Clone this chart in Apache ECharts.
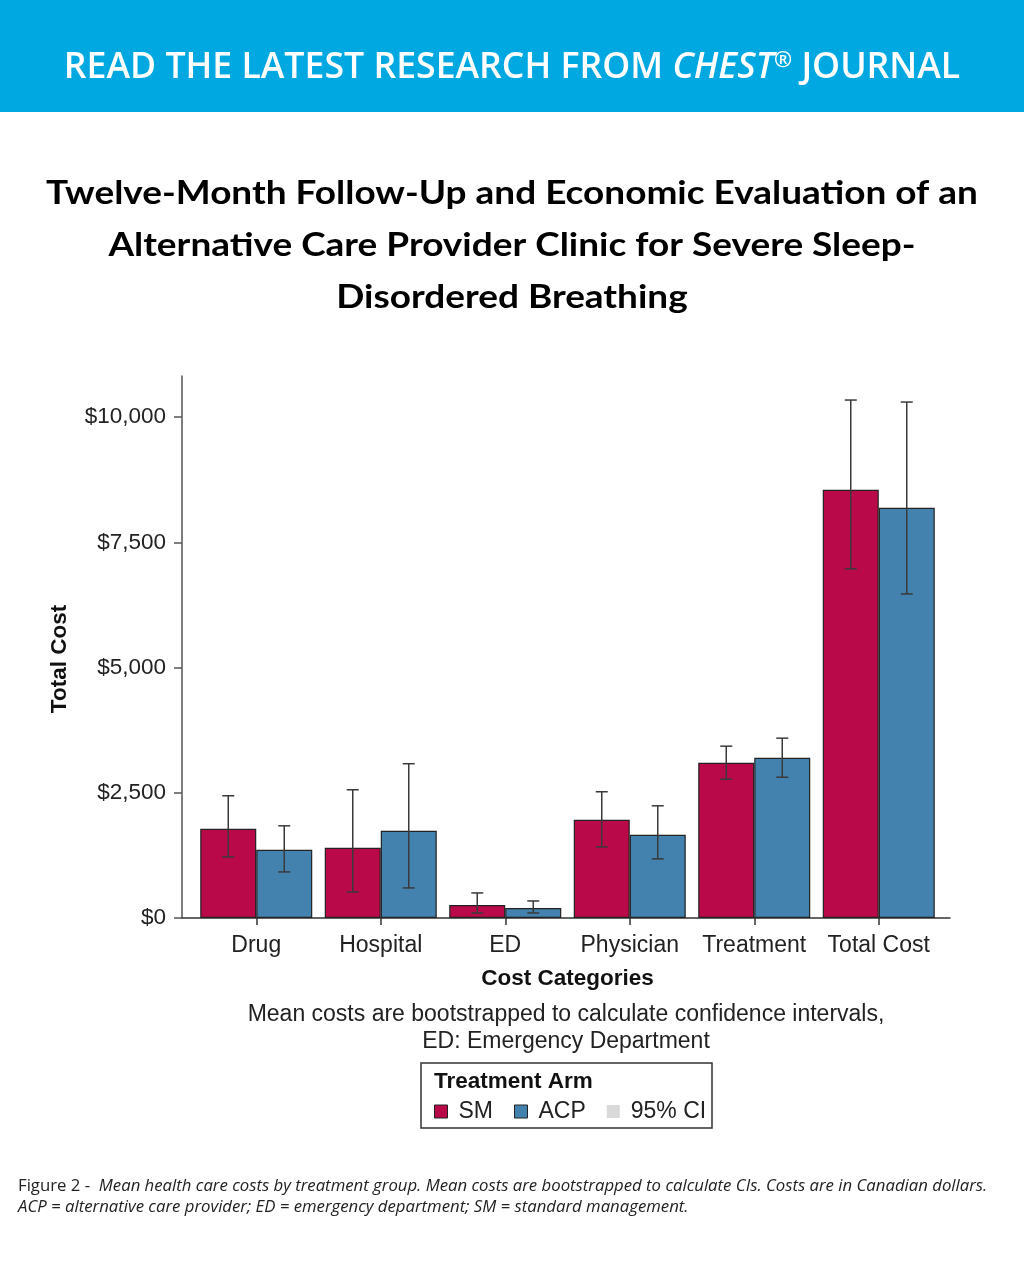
<!DOCTYPE html>
<html>
<head>
<meta charset="utf-8">
<script src="https://cdn.jsdelivr.net/npm/echarts@6/dist/echarts.min.js"></script>
<style>
  html, body { margin: 0; padding: 0; background: #fff; }
  #chart { width: 1024px; height: 1280px; }
</style>
</head>
<body>
<div id="chart"></div>
<script>
// cost categories on the x axis
const categories = ['Drug', 'Hospital', 'ED', 'Physician', 'Treatment', 'Total Cost']
// mean costs (CAD) per arm
const smMean = [1780, 1400, 260, 1960, 3100, 8550]
const acpMean = [1360, 1740, 200, 1660, 3200, 8190]
// 95% CI bounds
const smLow = [1220, 520, 100, 1420, 2770, 6970]
const smHigh = [2440, 2560, 500, 2520, 3430, 10340]
const acpLow = [920, 600, 100, 1180, 2810, 6470]
const acpHigh = [1840, 3080, 340, 2240, 3590, 10300]
// y axis ticks
const yTicks = [0, 2500, 5000, 7500, 10000]
const yMax = 10820

const SM_COLOR = '#BA0948'
const ACP_COLOR = '#4382AE'
const BAR_W = 56
const LABEL_FONT = 'Liberation Sans'

const chart = echarts.init(document.getElementById('chart'))

// error bar drawn at bar centre (offset = half bar width)
function errorBar(offset) {
    return function (params, api) {
        const lo = api.coord([api.value(0), api.value(1)])
        const hi = api.coord([api.value(0), api.value(2)])
        const x = lo[0] + offset
        const cap = 6
        const style = { stroke: '#3a3a3a', lineWidth: 1.5 }
        return {
            type: 'group',
            children: [
                { type: 'line', shape: { x1: x, y1: lo[1], x2: x, y2: hi[1] }, style },
                { type: 'line', shape: { x1: x - cap, y1: lo[1], x2: x + cap, y2: lo[1] }, style },
                { type: 'line', shape: { x1: x - cap, y1: hi[1], x2: x + cap, y2: hi[1] }, style },
            ],
        }
    }
}

const smCI = categories.map((c, i) => [i, smLow[i], smHigh[i]])
const acpCI = categories.map((c, i) => [i, acpLow[i], acpHigh[i]])

chart.setOption({
    animation: false,
    backgroundColor: '#fff',
    textStyle: { fontFamily: LABEL_FONT },
    grid: [
        // bars live here
        { left: 194, right: 83, top: 376, bottom: 362 },
        // axis lines span a bit wider
        { left: 182, right: 74, top: 376, bottom: 362 },
    ],
    xAxis: [
        {
            type: 'category',
            gridIndex: 0,
            data: categories,
            axisLine: { show: false },
            axisTick: { show: true, interval: 0, alignWithLabel: true, length: 7, lineStyle: { color: '#333', width: 1.5 } },
            axisLabel: { interval: 0, hideOverlap: false, color: '#222', fontSize: 23, margin: 16, fontFamily: LABEL_FONT },
            name: 'Cost Categories',
            nameLocation: 'middle',
            nameGap: 49,
            nameTextStyle: { color: '#111', fontSize: 22.5, fontWeight: 'bold', fontFamily: LABEL_FONT },
        },
        {
            type: 'value',
            gridIndex: 1,
            min: 0,
            max: 1,
            axisLine: { show: true, onZero: false, lineStyle: { color: '#333', width: 1.5 } },
            axisTick: { show: false },
            axisLabel: { show: false },
            splitLine: { show: false },
        },
    ],
    yAxis: [
        {
            type: 'value',
            gridIndex: 0,
            min: 0,
            max: yMax,
            show: false,
        },
        {
            type: 'value',
            gridIndex: 1,
            min: 0,
            max: yMax,
            axisLine: { show: true, lineStyle: { color: '#555', width: 1.5 } },
            axisTick: { show: true, customValues: yTicks, length: 8, lineStyle: { color: '#555', width: 1.5 } },
            axisLabel: {
                customValues: yTicks,
                color: '#222',
                fontSize: 22.5,
                margin: 16,
                fontFamily: LABEL_FONT,
                formatter: (v) => '$' + v.toLocaleString('en-US'),
            },
            splitLine: { show: false },
            name: 'Total Cost',
            nameLocation: 'middle',
            nameGap: 111,
            nameTextStyle: { color: '#111', fontSize: 22.5, fontWeight: 'bold', fontFamily: LABEL_FONT, padding: [0, 24, 0, 0] },
        },
    ],
    legend: {
        left: 429,
        top: 1095,
        itemWidth: 13,
        itemHeight: 13,
        itemGap: 21,
        textStyle: { color: '#222', fontSize: 23, fontFamily: LABEL_FONT, padding: [0, 0, 0, 6] },
        data: [
            { name: 'SM', icon: 'rect', itemStyle: { color: SM_COLOR, borderColor: '#222', borderWidth: 1 } },
            { name: 'ACP', icon: 'rect', itemStyle: { color: ACP_COLOR, borderColor: '#222', borderWidth: 1 } },
            { name: '95% CI', icon: 'rect', itemStyle: { color: '#d9d9d9', borderWidth: 0 } },
        ],
    },
    series: [
        {
            name: 'SM',
            type: 'bar',
            xAxisIndex: 0,
            yAxisIndex: 0,
            data: smMean,
            barWidth: BAR_W,
            barGap: '0%',
            itemStyle: { color: SM_COLOR, borderColor: '#222', borderWidth: 1.2 },
        },
        {
            name: 'ACP',
            type: 'bar',
            xAxisIndex: 0,
            yAxisIndex: 0,
            data: acpMean,
            barWidth: BAR_W,
            barGap: '0%',
            itemStyle: { color: ACP_COLOR, borderColor: '#222', borderWidth: 1.2 },
        },
        {
            name: '95% CI',
            type: 'custom',
            xAxisIndex: 0,
            yAxisIndex: 0,
            renderItem: errorBar(-BAR_W / 2),
            data: smCI,
            z: 5,
        },
        {
            name: '95% CI',
            type: 'custom',
            xAxisIndex: 0,
            yAxisIndex: 0,
            renderItem: errorBar(BAR_W / 2),
            data: acpCI,
            z: 5,
        },
    ],
    graphic: [
        // header band
        { type: 'rect', shape: { x: 0, y: 0, width: 1024, height: 112 }, style: { fill: '#00A8E1' }, silent: true },
        {
            type: 'text',
            x: 512,
            y: 68,
            scaleX: 0.99,
            style: {
                text: '{a|READ THE LATEST RESEARCH FROM }{b|CHEST}{c|®}{a| JOURNAL}',
                align: 'center',
                verticalAlign: 'middle',
                rich: {
                    a: { fill: '#fff', fontSize: 36, fontWeight: 600, fontFamily: 'Open Sans' },
                    b: { fill: '#fff', fontSize: 36, fontWeight: 600, fontStyle: 'italic', fontFamily: 'Open Sans' },
                    c: { fill: '#fff', fontSize: 22, fontWeight: 600, fontFamily: 'Open Sans', verticalAlign: 'top', padding: [0, 0, 12, 0] },
                },
            },
        },
        // title
        {
            type: 'text',
            x: 512,
            y: 245,
            scaleX: 1.12,
            style: {
                text: 'Twelve-Month Follow-Up and Economic Evaluation of an\nAlternative Care Provider Clinic for Severe Sleep-\nDisordered Breathing',
                align: 'center',
                verticalAlign: 'middle',
                fill: '#000',
                fontSize: 33,
                lineHeight: 52,
                fontWeight: 'bold',
                fontFamily: 'Lato',
            },
        },
        // note below axis
        {
            type: 'text',
            x: 566,
            y: 1028,
            style: {
                text: 'Mean costs are bootstrapped to calculate confidence intervals,\nED: Emergency Department',
                align: 'center',
                verticalAlign: 'middle',
                fill: '#222',
                fontSize: 23,
                lineHeight: 27,
                fontFamily: LABEL_FONT,
            },
        },
        // legend box and its title
        { type: 'rect', shape: { x: 421, y: 1063, width: 291, height: 65 }, style: { fill: 'none', stroke: '#333', lineWidth: 1.5 } },
        {
            type: 'text',
            x: 434,
            y: 1082,
            style: { text: 'Treatment Arm', verticalAlign: 'middle', fill: '#111', fontSize: 22.5, fontWeight: 'bold', fontFamily: LABEL_FONT },
        },
        // figure caption
        {
            type: 'text',
            x: 18,
            y: 1197,
            scaleX: 1.08,
            style: {
                text: '{n|Figure 2 -  }{i|Mean health care costs by treatment group. Mean costs are bootstrapped to calculate CIs. Costs are in Canadian dollars.}\n{i|ACP = alternative care provider; ED = emergency department; SM = standard management.}',
                verticalAlign: 'middle',
                lineHeight: 21,
                rich: {
                    n: { fill: '#222', fontSize: 15.5, fontFamily: 'Open Sans', lineHeight: 21 },
                    i: { fill: '#222', fontSize: 15.5, fontStyle: 'italic', fontFamily: 'Open Sans', lineHeight: 21 },
                },
            },
        },
    ],
})
</script>
</body>
</html>
